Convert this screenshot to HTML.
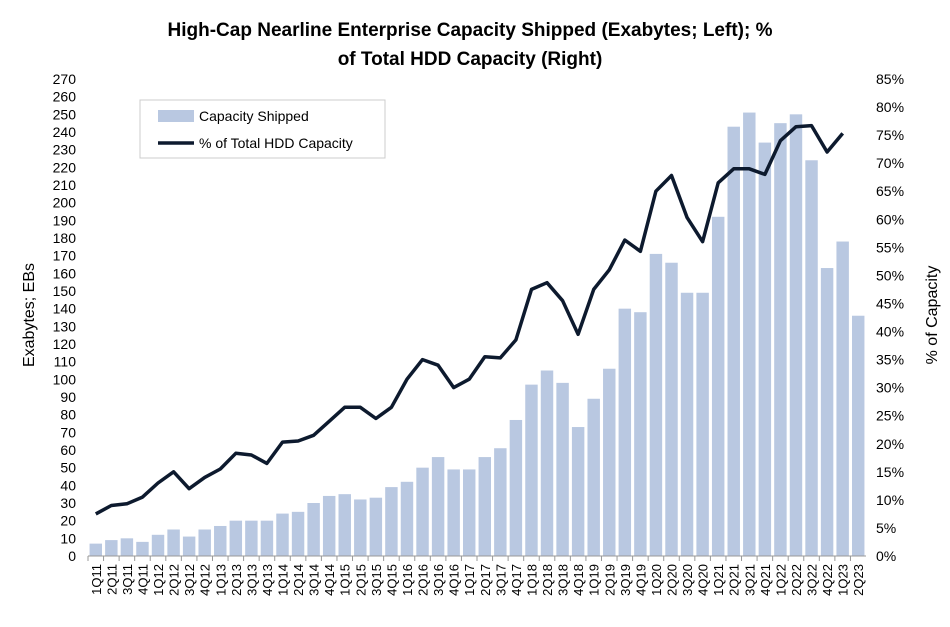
<!DOCTYPE html>
<html><head><meta charset="utf-8"><style>
body{margin:0;background:#fff;}
svg text{font-family:"Liberation Sans",Arial,sans-serif;}
</style></head><body>
<svg id="c" width="950" height="622" xmlns="http://www.w3.org/2000/svg">
<text x="470" y="36" text-anchor="middle" font-size="19" font-weight="bold">High-Cap Nearline Enterprise Capacity Shipped (Exabytes; Left); %</text>
<text x="470" y="65" text-anchor="middle" font-size="19" font-weight="bold">of Total HDD Capacity (Right)</text>
<text transform="translate(34,315) rotate(-90)" text-anchor="middle" font-size="16">Exabytes; EBs</text>
<text transform="translate(937,315) rotate(-90)" text-anchor="middle" font-size="16">% of Capacity</text>
<g id="g"></g>
<g>
<rect x="140" y="100" width="245" height="58" fill="#fff" stroke="#ccc"/>
<rect x="158" y="110" width="36" height="12" fill="#b9c8e1"/>
<text x="199" y="121" font-size="14">Capacity Shipped</text>
<line x1="158" y1="143" x2="194" y2="143" stroke="#0d1a2e" stroke-width="3.5"/>
<text x="199" y="148" font-size="14">% of Total HDD Capacity</text>
</g>
</svg>
<script>
const categories=[];
for(let y=11;y<=23;y++)for(let q=1;q<=4;q++){if(y===23&&q>2)break;categories.push(q+"Q"+y);}
const capacity=[7,9,10,8,12,15,11,15,17,20,20,20,24,25,30,34,35,32,33,39,42,50,56,49,49,56,61,77,97,105,98,73,89,106,140,138,171,166,149,149,192,243,251,234,245,250,224,163,178,136];
const pctShare=[7.5,9,9.3,10.5,13,15,12,14,15.5,18.3,18,16.5,20.3,20.5,21.5,24,26.5,26.5,24.5,26.5,31.5,35,34,30,31.5,35.5,35.3,38.5,47.5,48.7,45.5,39.5,47.5,51,56.3,54.3,65,67.8,60.3,56,66.5,69,69,68,74,76.5,76.7,72,75.3,null];
const leftTicks=[];for(let v=0;v<=270;v+=10)leftTicks.push(v);
const rightTicks=[];for(let v=0;v<=85;v+=5)rightTicks.push(v);
const X0=88,X1=866,Y0=556,Y1=79;
const bw=(X1-X0)/categories.length;
const xc=i=>X0+bw*(i+0.5);
const yL=v=>Y0-(v/270)*(Y0-Y1);
const yR=v=>Y0-(v/85)*(Y0-Y1);
const g=document.getElementById('g');const NS="http://www.w3.org/2000/svg";
function mk(t,a){const e=document.createElementNS(NS,t);for(const k in a)e.setAttribute(k,a[k]);g.appendChild(e);return e;}
leftTicks.forEach(v=>{const t=mk('text',{x:76,y:yL(v)+5,'text-anchor':'end','font-size':14});t.textContent=v;

});
rightTicks.forEach(v=>{const t=mk('text',{x:876,y:yR(v)+5,'font-size':14});t.textContent=v+'%';

});
capacity.forEach((v,i)=>{const r=mk('rect',{x:xc(i)-bw*0.4,y:yL(v),width:bw*0.8,height:Y0-yL(v),fill:'#b9c8e1'});

});
const ax=mk('line',{x1:X0,y1:Y0,x2:X1,y2:Y0,stroke:'#999'});


categories.forEach((c,i)=>{const tk=mk('line',{x1:X0+bw*i,y1:Y0,x2:X0+bw*i,y2:Y0+5,stroke:'#999'});


const t=mk('text',{transform:`translate(${xc(i)+5},${Y0+8}) rotate(-90)`,'text-anchor':'end','font-size':13});t.textContent=c;

});
let d='';pctShare.forEach((v,i)=>{if(v==null)return;d+=(d?'L':'M')+xc(i).toFixed(1)+','+yR(v).toFixed(1);});
const p=mk('path',{d:d,fill:'none',stroke:'#0d1a2e','stroke-width':3.5,'stroke-linejoin':'round'});


</script>
</body></html>
